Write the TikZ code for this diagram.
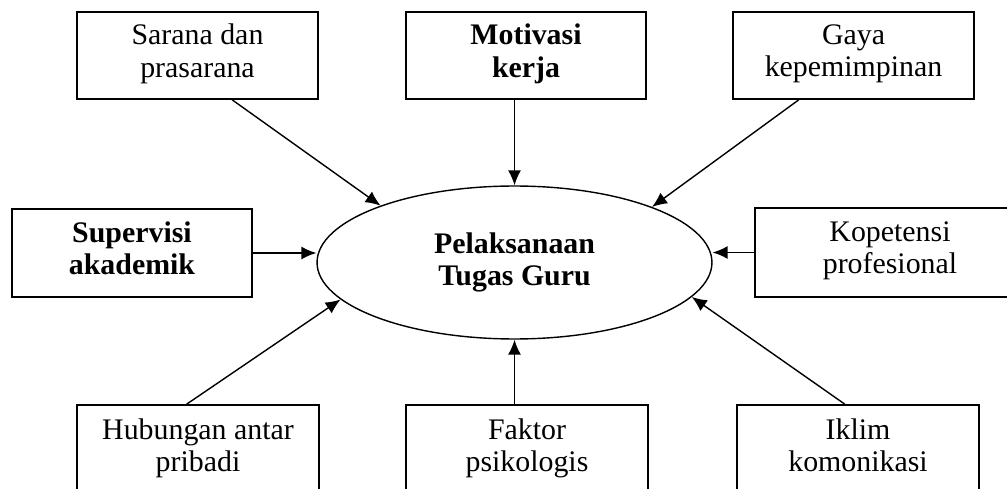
\documentclass[tikz,border=0pt]{standalone}
\usepackage{fontspec}
\setmainfont{Liberation Serif}
\usepackage{tikz}
\usetikzlibrary{shapes.geometric,arrows.meta,calc}
\newcommand{\garisatas}{\rule{0pt}{16pt}}
\newcommand{\garisbawah}{\rule[-5.5pt]{0pt}{5.5pt}}

\begin{document}
\begin{tikzpicture}[x=0.02cm, y=-0.02cm]
  \tikzstyle{kotak}=[rectangle, draw, line width=0.9pt, minimum width=4.82cm, minimum height=1.74cm, align=center, inner sep=0pt, font=\fontsize{17}{18.5}\selectfont, execute at begin node=\garisatas, execute at end node=\garisbawah]
  \tikzstyle{tebal}=[font=\fontsize{17}{18.5}\selectfont\bfseries]
  \tikzstyle{panah}=[-{Latex[length=3mm, width=2.6mm]}, line width=0.8pt]

  \useasboundingbox (0,0) rectangle (1007,489);

  % Pusat
  \node[ellipse, draw, line width=0.8pt, minimum width=7.9cm, minimum height=3.06cm, inner sep=0pt, align=center, tebal] (pusat) at (514.5,262.5) {Pelaksanaan\\Tugas Guru};

  % Baris atas
  \node[kotak] (sarana) at (197.5,55.5) {Sarana dan\\prasarana};
  \node[kotak, tebal, minimum width=4.8cm] (motivasi) at (526,55.5) {Motivasi\\kerja};
  \node[kotak] (gaya) at (853.5,55.5) {Gaya\\kepemimpinan};

  % Baris tengah
  \node[kotak, tebal, minimum width=4.8cm, minimum height=1.76cm] (supervisi) at (132,253) {Supervisi\\akademik};
  \node[kotak, minimum width=5.4cm, minimum height=1.78cm] (kopetensi) at (890,252.5) {Kopetensi\\profesional};

  % Baris bawah
  \node[kotak, minimum width=4.84cm, minimum height=1.8cm] (hubungan) at (198,450) {Hubungan antar\\pribadi};
  \node[kotak, minimum width=4.84cm, minimum height=1.8cm] (faktor) at (527,450) {Faktor\\psikologis};
  \node[kotak, minimum width=4.84cm, minimum height=1.8cm] (iklim) at (858,450) {Iklim\\komonikasi};

  % Panah ke pusat
  \draw[panah] (sarana.-52) -- (pusat.157.6);
  \draw[panah] (pusat.north |- motivasi.south) -- (pusat.north);
  \draw[panah] (gaya.-141.9) -- (pusat.22.6);
  \draw[panah] (supervisi.east) -- (pusat.west |- supervisi.east);
  \draw[panah] (kopetensi.west) -- (pusat.east |- kopetensi.west);
  \draw[panah] (hubungan.104) -- (pusat.-168.9);
  \draw[panah] (pusat.south |- faktor.north) -- (pusat.south);
  \draw[panah] (iklim.106.5) -- (pusat.-11);
\end{tikzpicture}
\end{document}
